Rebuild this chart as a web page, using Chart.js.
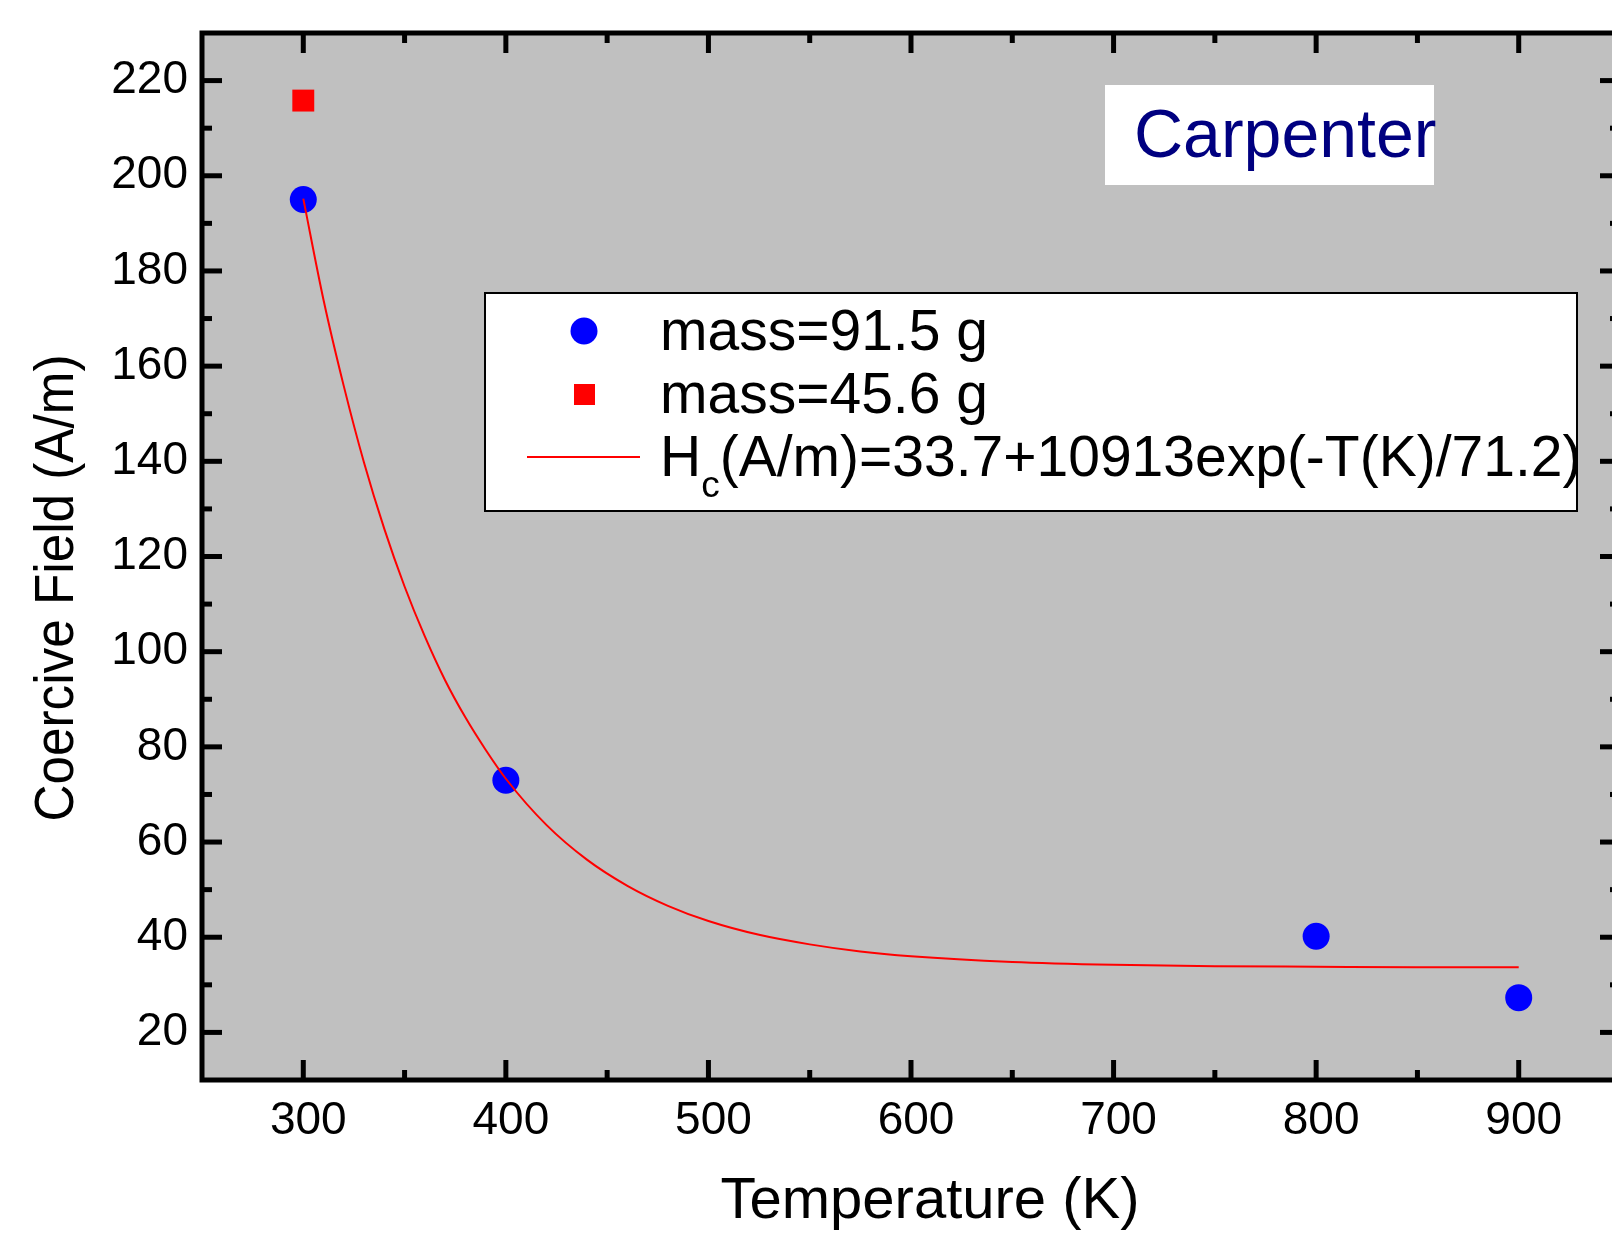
<!DOCTYPE html>
<html>
<head>
<meta charset="utf-8">
<script src="https://cdn.jsdelivr.net/npm/chart.js@4.4.1/dist/chart.umd.min.js"></script>
<style>
  html, body { margin: 0; padding: 0; background: #fff; overflow: hidden; }
  #wrap { width: 1612px; height: 1233px; overflow: hidden; }
</style>
</head>
<body>
<div id="wrap"><canvas id="myChart" width="1640" height="1233"></canvas></div>
<script>
// measured points
const tempA = [300, 400, 800, 900];
const hcA = [195, 73, 40.2, 27.3];
const tempB = [300];
const hcB = [215.8];

// fit curve
const fitT = [300, 310, 320, 330, 340, 350, 360, 370, 380, 390, 400, 420, 440, 460, 480, 500, 525, 550, 575, 600, 650, 700, 750, 800, 850, 900];
const fitH = [195.2, 173.9, 155.8, 139.7, 125.8, 113.7, 103.2, 94.0, 86.2, 79.4, 73.3, 63.6, 56.3, 50.8, 46.6, 43.4, 40.5, 38.5, 37.0, 36.0, 34.8, 34.2, 33.9, 33.8, 33.7, 33.7];

const xTicks = [300, 400, 500, 600, 700, 800, 900];
const xMinor = [350, 450, 550, 650, 750, 850];
const yTicks = [20, 40, 60, 80, 100, 120, 140, 160, 180, 200, 220];
const yMinor = [30, 50, 70, 90, 110, 130, 150, 170, 190, 210];

const FONT = "'Liberation Sans', Arial, sans-serif";

const toPts = (xs, ys) => xs.map((x, i) => ({ x: x, y: ys[i] }));

const frame = {
  id: "frame",
  beforeDraw(chart) {
    const { ctx, chartArea: a } = chart;
    ctx.save();
    ctx.fillStyle = "#fff";
    ctx.fillRect(0, 0, chart.width, chart.height);
    ctx.fillStyle = "#c0c0c0";
    ctx.fillRect(a.left, a.top, a.right - a.left, a.bottom - a.top);
    ctx.restore();
  },
  afterDraw(chart) {
    const { ctx, chartArea: a } = chart;
    const xs = chart.scales.x, ys = chart.scales.y;
    ctx.save();
    ctx.strokeStyle = "#000";
    ctx.lineWidth = 5;
    ctx.lineCap = "butt";
    // ticks, pointing inward on all four sides
    const tick = (x1, y1, x2, y2) => { ctx.beginPath(); ctx.moveTo(x1, y1); ctx.lineTo(x2, y2); ctx.stroke(); };
    xTicks.forEach(v => { const p = xs.getPixelForValue(v); tick(p, a.bottom, p, a.bottom - 20); tick(p, a.top, p, a.top + 20); });
    xMinor.forEach(v => { const p = xs.getPixelForValue(v); tick(p, a.bottom, p, a.bottom - 10); tick(p, a.top, p, a.top + 10); });
    yTicks.forEach(v => { const p = ys.getPixelForValue(v); tick(a.left, p, a.left + 20, p); tick(a.right, p, a.right - 20, p); });
    yMinor.forEach(v => { const p = ys.getPixelForValue(v); tick(a.left, p, a.left + 10, p); tick(a.right, p, a.right - 10, p); });
    ctx.strokeRect(a.left, a.top, a.right - a.left, a.bottom - a.top);

    // Carpenter label
    ctx.fillStyle = "#fff";
    ctx.fillRect(1105, 85, 329, 100);
    ctx.fillStyle = "#000080";
    ctx.font = "68px " + FONT;
    ctx.textBaseline = "alphabetic";
    ctx.textAlign = "left";
    ctx.fillText("Carpenter", 1134, 157);

    // legend
    ctx.fillStyle = "#fff";
    ctx.fillRect(485, 293, 1092, 218);
    ctx.lineWidth = 2;
    ctx.strokeStyle = "#000";
    ctx.strokeRect(485, 293, 1092, 218);
    ctx.fillStyle = "#0000ff";
    ctx.beginPath(); ctx.arc(584, 331, 13.5, 0, Math.PI * 2); ctx.fill();
    ctx.fillStyle = "#ff0000";
    ctx.fillRect(574, 384, 21, 21);
    ctx.strokeStyle = "#ff0000";
    ctx.lineWidth = 2;
    ctx.beginPath(); ctx.moveTo(527, 457); ctx.lineTo(640, 457); ctx.stroke();

    ctx.fillStyle = "#000";
    ctx.font = "57px " + FONT;
    ctx.fillText("mass=91.5 g", 660, 350);
    ctx.fillText("mass=45.6 g", 660, 413);
    ctx.fillText("H", 660, 476);
    let hx = 660 + ctx.measureText("H").width;
    ctx.font = "37px " + FONT;
    ctx.fillText("c", hx, 497);
    hx += ctx.measureText("c").width;
    ctx.font = "57px " + FONT;
    ctx.fillText("(A/m)=33.7+10913exp(-T(K)/71.2)", hx, 476);

    // axis titles
    ctx.textAlign = "center";
    ctx.font = "58px " + FONT;
    ctx.fillText("Temperature (K)", 930, 1218);
    ctx.font = "56px " + FONT;
    ctx.translate(73, 588);
    ctx.rotate(-Math.PI / 2);
    ctx.fillText("Coercive Field (A/m)", 0, 0, 467);
    ctx.restore();
  }
};

const ctx = document.getElementById("myChart");

new Chart(ctx, {
  type: "scatter",
  data: {
    datasets: [
      {
        label: "Hc(A/m)=33.7+10913exp(-T(K)/71.2)",
        data: toPts(fitT, fitH),
        showLine: true,
        borderColor: "#ff0000",
        borderWidth: 2,
        pointRadius: 0,
        cubicInterpolationMode: "monotone",
        clip: false,
      },
      {
        label: "mass=91.5 g",
        data: toPts(tempA, hcA),
        pointStyle: "circle",
        pointRadius: 13.5,
        backgroundColor: "#0000ff",
        borderWidth: 0,
        clip: false,
      },
      {
        label: "mass=45.6 g",
        data: toPts(tempB, hcB),
        pointStyle: "rect",
        pointRadius: 15.5,
        backgroundColor: "#ff0000",
        borderWidth: 0,
        clip: false,
      },
    ],
  },
  options: {
    responsive: false,
    animation: false,
    devicePixelRatio: 1,
    layout: { padding: { top: 33, right: 20, left: 0, bottom: 0 } },
    plugins: { legend: { display: false }, tooltip: { enabled: false } },
    scales: {
      x: {
        type: "linear",
        min: 250,
        max: 950,
        afterBuildTicks: (s) => { s.ticks = xTicks.map(v => ({ value: v })); },
        afterFit: (s) => { s.height = 153; s.paddingLeft = 0; s.paddingRight = 0; },
        grid: { display: false, drawTicks: false },
        border: { display: false },
        ticks: { color: "#000", font: { size: 46, family: FONT }, padding: 14, maxRotation: 0, labelOffset: 5 },
      },
      y: {
        type: "linear",
        min: 10,
        max: 230,
        afterBuildTicks: (s) => { s.ticks = yTicks.map(v => ({ value: v })); },
        afterFit: (s) => { s.width = 202; s.paddingTop = 0; s.paddingBottom = 0; },
        grid: { display: false, drawTicks: false },
        border: { display: false },
        ticks: { color: "#000", font: { size: 46, family: FONT }, padding: 14 },
      },
    },
  },
  plugins: [frame],
});
</script>
</body>
</html>
